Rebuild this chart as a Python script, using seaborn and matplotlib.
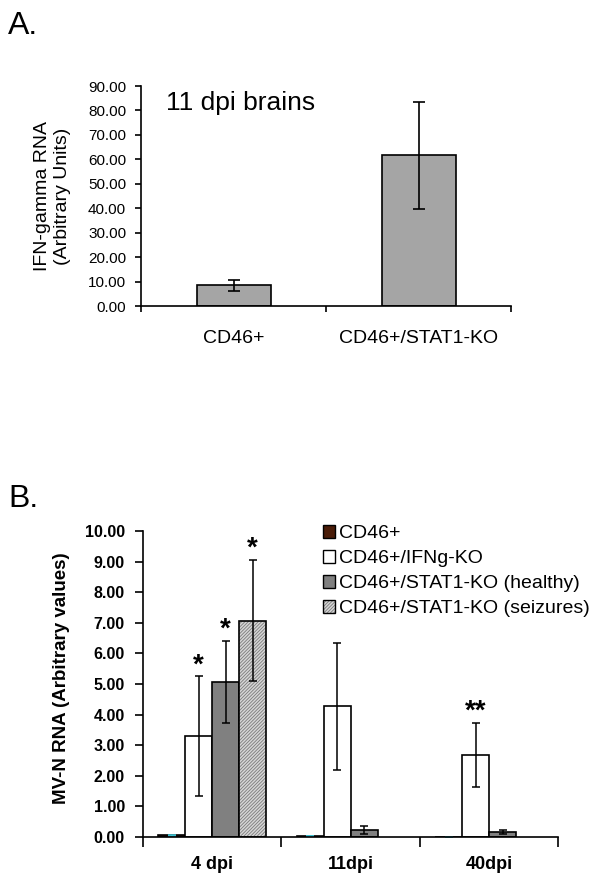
import numpy as np
import pandas as pd
import matplotlib
matplotlib.use('Agg')
import matplotlib.pyplot as plt
import seaborn as sns
from matplotlib.colors import to_rgba

# Panel A: IFN-gamma RNA, 11 dpi brains
a_groups = ['CD46+', 'CD46+/STAT1-KO']
a_values = [8.5, 61.6]
a_errors = [2.2, 21.9]

# Panel B: MV-N RNA by time point
b_times = ['4 dpi', '11dpi', '40dpi']
b_strains = ['CD46+', 'CD46+/IFNg-KO', 'CD46+/STAT1-KO (healthy)', 'CD46+/STAT1-KO (seizures)']
b_cd46 = [0.05, 0.03, 0.01]
b_ifng = [3.30, 4.27, 2.69]
b_healthy = [5.06, 0.24, 0.16]
b_seizures = [7.07, np.nan, np.nan]
b_cd46_err = [0.01, 0.005, 0.005]
b_ifng_err = [1.95, 2.07, 1.05]
b_healthy_err = [1.35, 0.13, 0.06]
b_seizures_err = [1.98, np.nan, np.nan]
b_ifng_stars = ['*', '', '**']
b_healthy_stars = ['*', '', '']
b_seizures_stars = ['*', '', '']
b_colors = ['#4a1c08', '#ffffff', '#808080', '#d6d6d6']

sns.set_theme(style='ticks')
plt.rcParams['font.family'] = ['Liberation Sans', 'DejaVu Sans']
plt.rcParams['axes.edgecolor'] = 'black'
plt.rcParams['text.color'] = 'black'
plt.rcParams['axes.labelcolor'] = 'black'
plt.rcParams['xtick.color'] = 'black'
plt.rcParams['ytick.color'] = 'black'
plt.rcParams['hatch.linewidth'] = 0.6

fig = plt.figure(figsize=(6.01, 8.86), dpi=100)
ax_a = fig.add_axes([0.2354, 0.6546, 0.6156, 0.2483])
ax_b = fig.add_axes([0.2379, 0.0553, 0.6913, 0.3454])

# ---- Panel A ----
df_a = pd.DataFrame({'group': a_groups, 'value': a_values})
sns.barplot(data=df_a, x='group', y='value', color='#a5a5a5', width=0.4,
            edgecolor='black', linewidth=1.2, errorbar=None, saturation=1, ax=ax_a)
for bar, err in zip(list(ax_a.patches), a_errors):
    cx = bar.get_x() + bar.get_width() / 2
    ax_a.errorbar(cx, bar.get_height(), yerr=err, fmt='none', ecolor='black',
                  elinewidth=1.2, capsize=4, capthick=1.2)

ax_a.set_ylim(0, 90)
ax_a.set_xlim(-0.5, 1.5)
ax_a.set_yticks(np.arange(0, 91, 10))
ax_a.set_yticklabels([f'{v:.2f}' for v in np.arange(0, 91, 10)], fontsize=11)
ax_a.set_xticks(range(len(a_groups)))
ax_a.set_xticklabels(a_groups, fontsize=14)
ax_a.set_xticks([-0.5, 0.5, 1.5], minor=True)
ax_a.tick_params(axis='x', which='major', length=0, pad=17)
ax_a.tick_params(axis='x', which='minor', length=4, width=1.2, direction='out')
ax_a.tick_params(axis='y', length=4, width=1.2, pad=7)
ax_a.set_xlabel('')
ax_a.set_ylabel('IFN-gamma RNA\n(Arbitrary Units)', fontsize=14, va='center')
ax_a.yaxis.set_label_coords(-0.24, 0.5)
ax_a.text(0.066, 0.89, '11 dpi brains', transform=ax_a.transAxes, fontsize=19, va='baseline')
for s in ['left', 'bottom']:
    ax_a.spines[s].set_linewidth(1.2)
sns.despine(ax=ax_a)

# ---- Panel B ----
df_b = pd.DataFrame({
    'time': b_times * 4,
    'strain': np.repeat(b_strains, 3),
    'value': b_cd46 + b_ifng + b_healthy + b_seizures,
})
sns.barplot(data=df_b, x='time', y='value', hue='strain', hue_order=b_strains,
            palette=b_colors, width=0.78, edgecolor='black', linewidth=1.2,
            errorbar=None, saturation=1, legend=False, ax=ax_b)
bar_conts = list(ax_b.containers)

errs = [b_cd46_err, b_ifng_err, b_healthy_err, b_seizures_err]
stars = [['', '', ''], b_ifng_stars, b_healthy_stars, b_seizures_stars]
err_colors = ['#40c8d8', 'black', 'black', 'black']
for i, cont in enumerate(bar_conts):
    for bar in cont:
        cx = bar.get_x() + bar.get_width() / 2
        cat = int(round(cx))
        err = errs[i][cat]
        top = bar.get_height()
        if np.isnan(top):
            continue
        ax_b.errorbar(cx, top, yerr=err, fmt='none', ecolor=err_colors[i],
                      elinewidth=1.1, capsize=3, capthick=1.1)
        if stars[i][cat]:
            ax_b.annotate(stars[i][cat], (cx, top + err), xytext=(0, 3),
                          textcoords='offset points', ha='center', va='baseline',
                          fontsize=20, fontweight='bold')

# hatched fill for the seizures group
for bar in bar_conts[3]:
    bar.set_hatch('//////////')
    bar._hatch_color = to_rgba('#7a7a7a')

ax_b.set_ylim(0, 10)
ax_b.set_xlim(-0.5, 2.5)
ax_b.set_yticks(np.arange(0, 11, 1))
ax_b.set_yticklabels([f'{v:.2f}' for v in np.arange(0, 11, 1)], fontsize=11.5, fontweight='bold')
ax_b.set_xticks(range(len(b_times)))
ax_b.set_xticklabels(b_times, fontsize=13, fontweight='bold')
ax_b.set_xticks([-0.5, 0.5, 1.5, 2.5], minor=True)
ax_b.tick_params(axis='x', which='major', length=0, pad=14)
ax_b.tick_params(axis='x', which='minor', length=7, width=1.2, direction='out')
ax_b.tick_params(axis='y', length=6, width=1.2, pad=7)
ax_b.set_xlabel('')
ax_b.set_ylabel('MV-N RNA (Arbitrary values)', fontsize=13.5, fontweight='bold', va='center')
ax_b.yaxis.set_label_coords(-0.197, 0.52)
for s in ['left', 'bottom']:
    ax_b.spines[s].set_linewidth(1.2)
sns.despine(ax=ax_b)

leg = ax_b.legend(bar_conts, b_strains, loc='upper left',
                  bbox_to_anchor=(323 / 601, 1 - 525 / 886), bbox_transform=fig.transFigure,
                  frameon=False, fontsize=14, handlelength=0.62, handleheight=0.62,
                  handletextpad=0.2, labelspacing=0.41, borderpad=0, borderaxespad=0)
for h in leg.legend_handles:
    h.set_linewidth(1.0)

fig.text(8 / 601, 1 - 34 / 886, 'A.', fontsize=23, va='baseline')
fig.text(8 / 601, 1 - 507 / 886, 'B.', fontsize=23, va='baseline')

fig.savefig('out.png', dpi=100)
